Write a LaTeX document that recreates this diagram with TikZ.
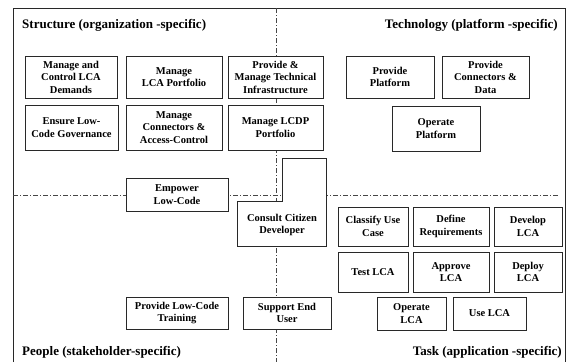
\documentclass[tikz,border=0pt]{standalone}
\usepackage{fontspec}
\setmainfont{Liberation Serif}
\usepackage{xcolor}
\usepackage{tikz}
\usetikzlibrary{positioning}
\definecolor{LCLine}{RGB}{40, 40, 40}
\definecolor{LCDash}{RGB}{70, 70, 70}

\tikzset{
  actbox/.style={draw=LCLine, fill=white, line width=0.8pt, align=center, inner sep=1pt,
    font=\fontsize{10.5}{12.5}\selectfont\bfseries},
  areatitle/.style={inner sep=0pt, font=\fontsize{13}{15}\selectfont\bfseries},
  divider/.style={LCDash, line width=0.6pt, dash pattern=on 5pt off 2pt on 1pt off 2pt}
}

\begin{document}
\begin{tikzpicture}[x=1pt, y=-1pt]
    \path[use as bounding box] (0,0) rectangle (568,362);
    % frame, open at the bottom
    \draw[LCLine, line width=0.8pt] (13,362) -- (13,8) -- (565,8) -- (565,362);
    \coordinate (vtop) at (276,8);
    \coordinate (vbot) at (276,362);
    \coordinate (hleft) at (13,195);
    \coordinate (hright) at (558,195);
    \draw[divider] (vtop) -- (vbot);
    \draw[divider] (hleft) -- (hright);

    \node[areatitle, anchor=west] (structure) at (22,25) {Structure (organization -specific)};
    \node[areatitle, anchor=east] (technology) at (558,25) {Technology (platform -specific)};
    \node[areatitle, anchor=west] (people) at (22,352) {People (stakeholder-specific)};
    \node[areatitle, anchor=east] (task) at (562,352) {Task (application -specific)};

    % structure
    \node[actbox, minimum width=92pt, minimum height=42pt] (demands) at (71,77) {Manage and\\Control LCA\\Demands};
    \node[actbox, minimum width=96pt, minimum height=42pt] (lcaport) at (174,77) {Manage\\LCA Portfolio};
    \node[actbox, minimum width=95pt, minimum height=42pt] (techinfra) at (275.5,77) {Provide \&\\Manage Technical\\Infrastructure};
    \node[actbox, minimum width=93pt, minimum height=45pt] (governance) at (71.5,127.5) {Ensure Low-\\Code Governance};
    \node[actbox, minimum width=96pt, minimum height=45pt] (connaccess) at (174,127.5) {Manage\\Connectors \&\\Access-Control};
    \node[actbox, minimum width=95pt, minimum height=45pt] (lcdpport) at (275.5,127.5) {Manage LCDP\\Portfolio};

    % technology
    \node[actbox, minimum width=88pt, minimum height=42pt] (platform) at (390,77) {Provide\\Platform};
    \node[actbox, minimum width=87pt, minimum height=42pt] (conndata) at (485.5,77) {Provide\\Connectors \&\\Data};
    \node[actbox, minimum width=88pt, minimum height=45pt] (opplatform) at (436,128.5) {Operate\\Platform};

    % people
    \node[actbox, minimum width=102pt, minimum height=33pt] (empower) at (177,194.5) {Empower\\Low-Code};
    \draw[LCLine, fill=white, line width=0.8pt] (282.7,158.3) -- (326.7,158.3) -- (326.7,246) -- (237.3,246)
      -- (237.3,201.7) -- (282.7,201.7) -- cycle;
    \node[actbox, draw=none, fill=none] (consult) at (282,225) {Consult Citizen\\Developer};
    \node[actbox, minimum width=102pt, minimum height=32pt] (training) at (177,313) {Provide Low-Code\\Training};
    \node[actbox, minimum width=88pt, minimum height=32pt] (enduser) at (287,313) {Support End\\User};

    % task
    \node[actbox, minimum width=70pt, minimum height=39pt] (classify) at (373,226.5) {Classify Use\\Case};
    \node[actbox, minimum width=76pt, minimum height=39pt] (definereq) at (451,226.5) {Define\\Requirements};
    \node[actbox, minimum width=68pt, minimum height=39pt] (develop) at (528,226.5) {Develop\\LCA};
    \node[actbox, minimum width=70pt, minimum height=40pt] (testlca) at (373,272) {Test LCA};
    \node[actbox, minimum width=76pt, minimum height=40pt] (approve) at (451,272) {Approve\\LCA};
    \node[actbox, minimum width=68pt, minimum height=40pt] (deploy) at (528,272) {Deploy\\LCA};
    \node[actbox, minimum width=69pt, minimum height=33pt] (operate) at (411.5,313.5) {Operate\\LCA};
    \node[actbox, minimum width=73pt, minimum height=33pt] (uselca) at (489.5,313.5) {Use LCA};
  \end{tikzpicture}
\end{document}
